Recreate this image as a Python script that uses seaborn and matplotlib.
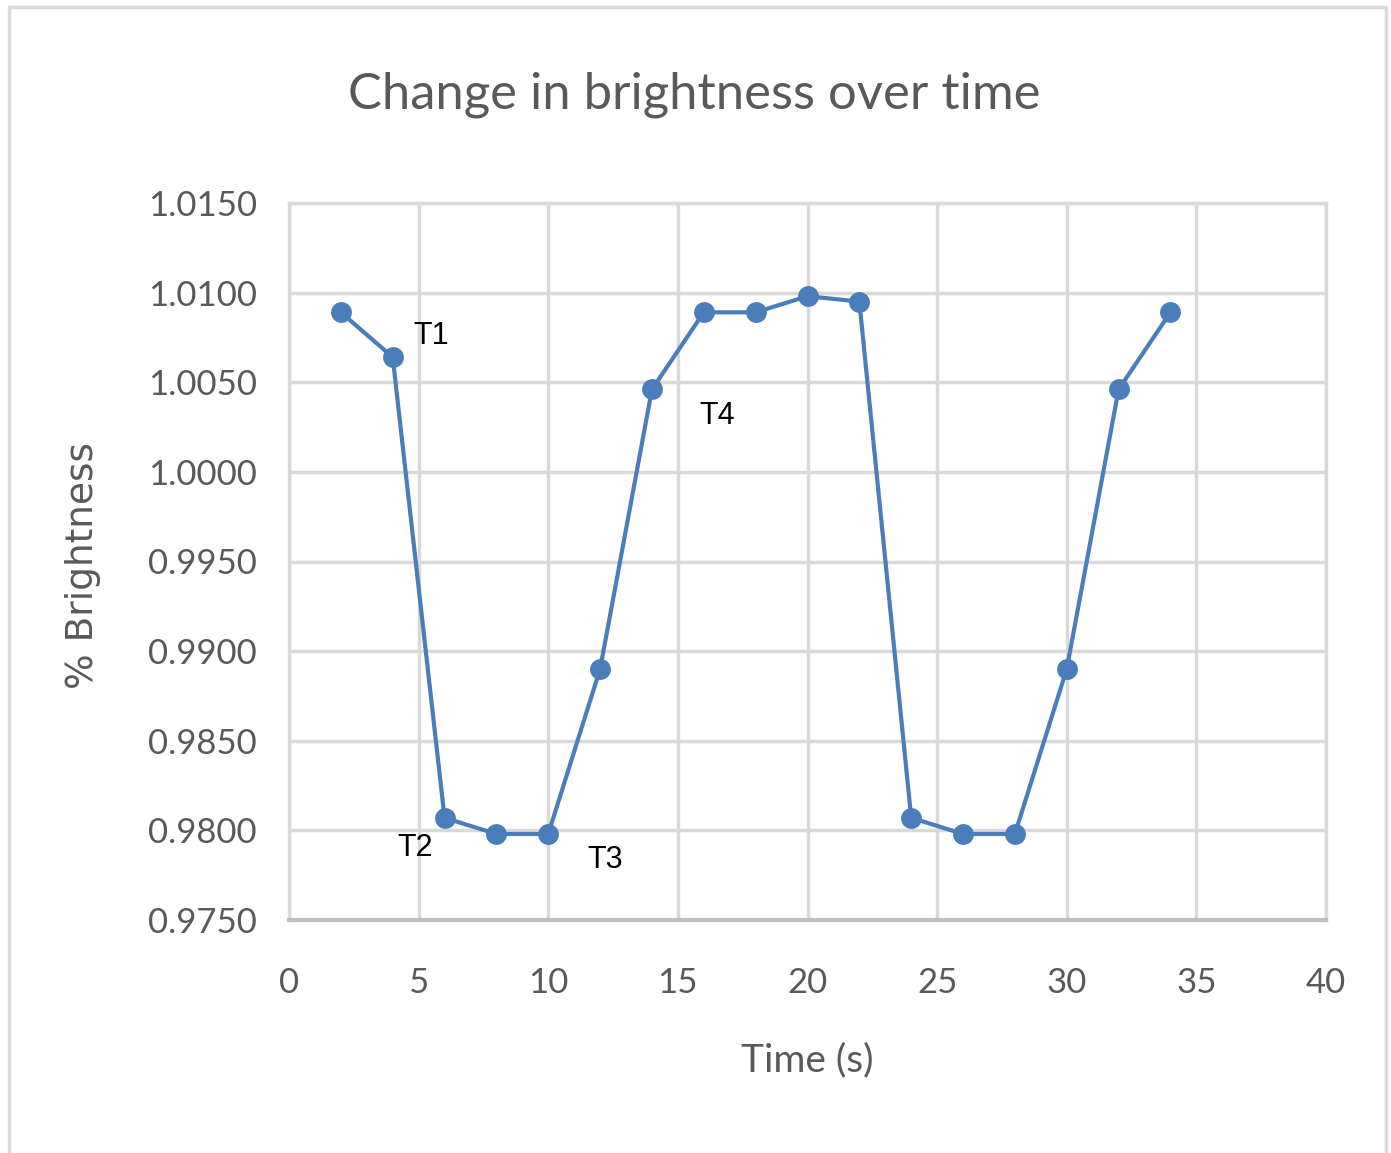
import matplotlib
matplotlib.use("Agg")
import matplotlib.pyplot as plt
import seaborn as sns
import pandas as pd
from matplotlib.lines import Line2D

time_s = [2, 4, 6, 8, 10, 12, 14, 16, 18, 20, 22, 24, 26, 28, 30, 32, 34]
brightness = [1.0089, 1.0064, 0.9807, 0.9798, 0.9798, 0.9890, 1.0046, 1.0089,
              1.0089, 1.0098, 1.0095, 0.9807, 0.9798, 0.9798, 0.9890, 1.0046, 1.0089]
labels = ["T1", "T2", "T3", "T4"]
label_x = [5.5, 4.85, 12.2, 16.5]
label_y = [1.0076, 0.9790, 0.97835, 1.0031]
x_ticks = [0, 5, 10, 15, 20, 25, 30, 35, 40]
y_ticks = [0.9750, 0.9800, 0.9850, 0.9900, 0.9950, 1.0000, 1.0050, 1.0100, 1.0150]

sns.set_theme(style="white")
plt.rcParams["font.family"] = ["Lato", "DejaVu Sans"]

df = pd.DataFrame({"t": time_s, "b": brightness})

fig = plt.figure(figsize=(13.91, 11.53), dpi=100)
ax = fig.add_axes([289/1391, 1-920/1153, (1326-289)/1391, (920-203)/1153])

sns.lineplot(data=df, x="t", y="b", ax=ax, color="#4a7ebb", linewidth=3,
             marker="o", markersize=15, markeredgewidth=0, zorder=3)

ax.set_xlim(0, 40)
ax.set_ylim(0.9750, 1.0150)
ax.set_xticks(x_ticks)
ax.set_yticks(y_ticks)
ax.set_xticklabels([str(v) for v in x_ticks])
ax.set_yticklabels([f"{v:.4f}" for v in y_ticks])
ax.grid(True, color="#d9d9d9", linewidth=2.5)
ax.set_axisbelow(True)
for s in ["top", "right", "left"]:
    ax.spines[s].set_color("#d9d9d9")
    ax.spines[s].set_linewidth(2.5)
ax.spines["bottom"].set_color("#bfbfbf")
ax.spines["bottom"].set_linewidth(3)
ax.tick_params(axis="both", length=0, labelsize=25, colors="#595959")
ax.tick_params(axis="x", pad=34)
ax.tick_params(axis="y", pad=23)

ax.set_xlabel("Time (s)", fontsize=28, color="#595959", va="center")
ax.xaxis.set_label_coords(0.5, (920-1060)/717)
ax.set_ylabel("% Brightness", fontsize=27, color="#595959", va="center",
              fontfamily="DejaVu Sans")
ax.yaxis.set_label_coords((83-289)/1037, (920-566)/717)

for lab, lx, ly in zip(labels, label_x, label_y):
    ax.text(lx, ly, lab, fontsize=22, color="black", ha="center", va="center",
            family=["Liberation Sans", "DejaVu Sans"])

fig.text(694/1391, 1-95/1153, "Change in brightness over time", fontsize=36.5,
         color="#595959", ha="center", va="center")

# outer chart border
for (x0, y0, x1, y1) in [(8.5, 7, 8.5, 1160), (8.5, 7, 1386, 7), (1386, 7, 1386, 1160)]:
    fig.add_artist(Line2D([x0/1391, x1/1391], [1-y0/1153, 1-y1/1153],
                          color="#d9d9d9", linewidth=2.5, transform=fig.transFigure))

fig.savefig("out.png", dpi=100)
